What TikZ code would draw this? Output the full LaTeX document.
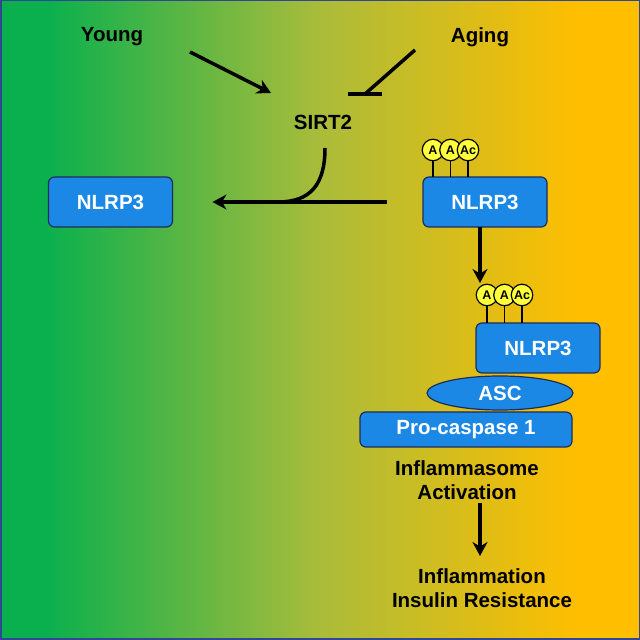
\documentclass[tikz,border=0pt]{standalone}
\usepackage{fontspec}
\setmainfont{Liberation Sans}
\usetikzlibrary{arrows.meta,shapes.geometric}
\definecolor{bggreen}{RGB}{10,176,78}
\definecolor{bgmid}{RGB}{170,188,58}
\definecolor{bgorange}{RGB}{255,190,0}
\definecolor{protblue}{RGB}{28,136,230}
\definecolor{protedge}{RGB}{30,45,90}
\definecolor{acyellow}{RGB}{255,255,60}
\definecolor{frameblue}{RGB}{50,70,150}
\newcommand{\lblfont}{\fontsize{20.5pt}{24pt}\selectfont\bfseries}
\newcommand{\acfont}{\fontsize{12.5pt}{12.5pt}\selectfont\bfseries}

\begin{document}
\begin{tikzpicture}[x=1pt,y=1pt,line width=3.5pt,
  every node/.style={inner sep=0pt,outer sep=0pt},
  lbl/.style={font=\lblfont,align=center},
  prot/.style={draw=protedge,line width=1.2pt,fill=protblue,rounded corners=6pt,
    text=white,font=\lblfont,minimum width=124pt,minimum height=50pt},
  acball/.style={circle,draw=black,line width=1.2pt,fill=acyellow,minimum size=21.5pt,font=\acfont},
  acstem/.style={line width=1.8pt},
  act/.style={-{Stealth[length=14pt,width=15pt]}}]
  % ---- background: green -> yellow -> orange, thin blue frame (canvas 640x640) ----
  \path[use as bounding box] (0,0) rectangle (640,640);
  \fill[bggreen] (0,0) rectangle (45.5,640);
  \shade[left color=bggreen,right color=bgmid] (45,0) rectangle (320.5,640);
  \shade[left color=bgmid,right color=bgorange] (320,0) rectangle (580.5,640);
  \fill[bgorange] (580,0) rectangle (640,640);
  \draw[frameblue,line width=1.5pt] (0.75,0.75) rectangle (639.25,639.25);
  % ---- labels ----
  \node[lbl] (young) at (112,603) {Young};
  \node[lbl] (aging) at (480,603) {Aging};
  \node[lbl] (sirt)  at (323,518) {SIRT2};
  % ---- proteins ----
  \node[prot] (nlrpL) at (110.5,438) {NLRP3};   % left, deacetylated
  \node[prot] (nlrpA) at (485,438) {NLRP3};     % acetylated
  \node[prot,minimum width=212pt,minimum height=35pt] (procasp) at (466,210.5) {Pro-caspase 1};
  \node[ellipse,draw=protedge,fill=protblue,line width=1.2pt,minimum width=146pt,minimum height=34pt,
    text=white,font=\lblfont] (asc) at (500,247) {ASC};
  \node[prot] (nlrpB) at (538,292) {NLRP3};     % in the inflammasome
  \node[lbl] (inflact) at (467,160) {Inflammasome\\Activation};
  \node[lbl] (outcome) at (482,51.5) {Inflammation\\Insulin Resistance};
  % ---- acetyl groups: three balls on stems above each acetylated NLRP3 ----
  \foreach \grp/\bx/\by in {A/433/490,B/487/345}{
    \foreach \i/\dx/\t in {1/0/A,2/17.5/A,3/35/Ac}
      \node[acball] (ac\grp\i) at (\bx+\dx,\by) {\t};
  }
  \foreach \grp in {A,B}
    \foreach \i in {1,2,3}
      \draw[acstem] (ac\grp\i.south) -- (ac\grp\i.south |- nlrp\grp.north);
  % ---- arrows ----
  \coordinate (youngTail) at (190,588);
  \coordinate (youngHead) at (271,547);
  \draw[act] (youngTail) -- (youngHead);
  \coordinate (agingTail) at (415,590);
  \coordinate (agingBar)  at (365,546);
  \draw (agingTail) -- (agingBar);
  \draw ([xshift=-17pt]agingBar) -- ([xshift=17pt]agingBar);   % flat bar = inhibition
  \draw[act,shorten <=36pt,shorten >=40pt] (nlrpA.west) -- (nlrpL.east);
  \coordinate (sirtCurve) at (325,492);
  \coordinate (sirtJoin)  at (278,438);
  \draw (sirtCurve) .. controls (325,455) and (310,438) .. (sirtJoin);
  \coordinate (assemblyHead) at (480,357);
  \draw[act] (nlrpA.south -| assemblyHead) -- (assemblyHead);
  \coordinate (outTail) at (480,137);
  \coordinate (outHead) at (480,84);
  \draw[act] (outTail) -- (outHead);
\end{tikzpicture}
\end{document}
